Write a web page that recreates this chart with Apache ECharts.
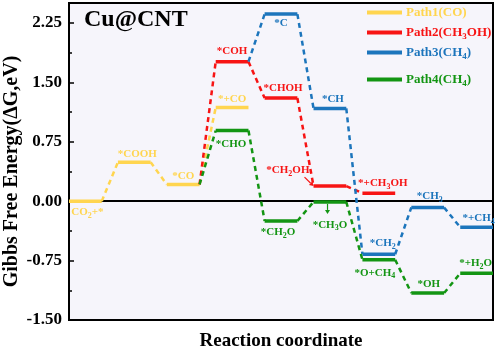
<!DOCTYPE html>
<html>
<head>
<meta charset="utf-8">
<script src="https://cdn.jsdelivr.net/npm/echarts@6/dist/echarts.min.js"></script>
<style>html,body{margin:0;padding:0;background:#fff;}#c{width:498px;height:348px;}</style>
</head>
<body>
<div id="c"></div>
<script>
// ---- data ----
const yTicks = ['-1.50', '-0.75', '0.00', '0.75', '1.50', '2.25'];
const seriesNames = ['Path1(CO)', 'Path2(CH3OH)', 'Path3(CH4)', 'Path4(CH4)'];

const path1Cols = [0, 1, 2, 3];
const path1Vals = [0.00, 0.49, 0.21, 1.18];
const path1Labels = ['CO{s|2}+*', '*COOH', '*CO', '*+CO'];

const path2From = [2, 0.21];
const path2Cols = [3, 4, 5, 6];
const path2Vals = [1.76, 1.30, 0.19, 0.10];
const path2Labels = ['*COH', '*CHOH', '*CH{s|2}OH', '*+CH{s|3}OH'];

const path3From = [3, 1.76];
const path3Cols = [4, 5, 6, 7, 8];
const path3Vals = [2.36, 1.17, -0.67, -0.08, -0.33];
const path3Labels = ['*C', '*CH', '*CH{s|2}', '*CH{s|3}', '*+CH{s|4}'];

const path4From = [2, 0.21];
const path4Cols = [3, 4, 5, 6, 7, 8];
const path4Vals = [0.89, -0.25, -0.01, -0.74, -1.16, -0.91];
const path4Labels = ['*CHO', '*CH{s|2}O', '*CH{s|3}O', '*O+CH{s|4}', '*OH', '*+H{s|2}O'];

// ---- layout (label offsets in px relative to level centre) ----
const path1LabelPos = [[2, 11], [3, -8], [0, -8], [0, -8]];
const path2LabelPos = [[0, -10], [2, -10], [-42, -16], [4, -10]];
const path3LabelPos = [[0, 9], [3, -9], [4, -11], [2, -11], [2, -9]];
const path4LabelPos = [[-1, 14], [-3, 11], [0, 23], [-4, 13], [1, -9], [-1, -10]];

const COLORS = ['#FFD54F', '#F71414', '#1C75BC', '#139513'];
const LW = 0.67; // level width in column units
const FONT = '"Liberation Serif", "Times New Roman", serif';

function makeSeries(name, color, from, cols, vals, labels, pos, arrows) {
  const data = cols.map((c, i) => {
    let pc = 0, pv = 0, has = 0;
    if (i > 0) { pc = cols[i - 1]; pv = vals[i - 1]; has = 1; }
    else if (from) { pc = from[0]; pv = from[1]; has = 1; }
    return [c, vals[i], pc, pv, has, i];
  });
  return {
    name: name,
    type: 'custom',
    itemStyle: { color: color },
    encode: { x: 0, y: 1 },
    data: data,
    clip: false,
    renderItem: function (params, api) {
      const c = api.value(0), v = api.value(1), pc = api.value(2), pv = api.value(3), has = api.value(4), idx = api.value(5);
      const p0 = api.coord([c, v]);
      const p1 = api.coord([c + LW, v]);
      const children = [];
      if (has) {
        const q = api.coord([pc + LW, pv]);
        children.push({ type: 'line', shape: { x1: q[0], y1: q[1], x2: p0[0], y2: p0[1] },
          style: { stroke: color, lineWidth: 2.5, lineDash: [5, 4] } });
      }
      children.push({ type: 'line', shape: { x1: p0[0], y1: p0[1], x2: p1[0], y2: p1[1] },
        style: { stroke: color, lineWidth: 3.5 } });
      const cx = (p0[0] + p1[0]) / 2;
      const lp = pos[idx];
      children.push({ type: 'text', x: cx + lp[0], y: p0[1] + lp[1],
        style: { text: labels[idx], fill: color, fontSize: 11, fontWeight: 'bold', fontFamily: FONT,
          align: 'center', verticalAlign: 'middle', lineHeight: 12,
          rich: { s: { fontSize: 8, fontWeight: 'bold', fontFamily: FONT, fill: color, verticalAlign: 'bottom', lineHeight: 15 } } } });
      if (arrows && arrows[idx]) {
        const a = arrows[idx];
        const x1 = p0[0] + a[0], y1 = p0[1] + a[1], x2 = p0[0] + a[2], y2 = p0[1] + a[3];
        const ang = Math.atan2(y2 - y1, x2 - x1);
        const hl = 4, hw = 2.5;
        const bx = x2 - hl * Math.cos(ang), by = y2 - hl * Math.sin(ang);
        children.push({ type: 'line', shape: { x1: x1, y1: y1, x2: bx, y2: by }, style: { stroke: color, lineWidth: 1.2 } });
        children.push({ type: 'polygon', shape: { points: [[x2, y2],
          [bx - hw * Math.sin(ang), by + hw * Math.cos(ang)], [bx + hw * Math.sin(ang), by - hw * Math.cos(ang)]] },
          style: { fill: color } });
      }
      return { type: 'group', children: children };
    }
  };
}

// arrows: [x1,y1,x2,y2] px offsets from level start
const path2Arrows = [null, null, [-9, -9, 0, 0], null];
const path4Arrows = [null, null, [14, 2, 14, 12], null, null, null];

const richLegend = (color) => ({
  a: { fontSize: 13, fontWeight: 'bold', fontFamily: FONT, color: color, lineHeight: 14, verticalAlign: 'middle' },
  s: { fontSize: 9, fontWeight: 'bold', fontFamily: FONT, color: color, lineHeight: 18, verticalAlign: 'bottom' }
});
const legendFmt = (n) => {
  const m = n.match(/^(.*CH)(\d)(.*)$/);
  if (m) return '{a|' + m[1] + '}{s|' + m[2] + '}{a|' + m[3] + '}';
  return '{a|' + n + '}';
};
const legendTops = [6, 26, 46, 73];

const chart = echarts.init(document.getElementById('c'), null, { renderer: 'canvas' });
chart.setOption({
  animation: false,
  backgroundColor: '#ffffff',
  title: { text: 'Cu@CNT', left: 84, top: 8, padding: 0,
    textStyle: { fontSize: 24, fontWeight: 'bold', fontFamily: FONT, color: '#000' } },
  legend: seriesNames.map((n, i) => ({
    data: [n], left: 367, top: legendTops[i], padding: 0, itemGap: 0,
    icon: 'rect', itemWidth: 35, itemHeight: 4,
    formatter: legendFmt,
    textStyle: { color: COLORS[i], rich: richLegend(COLORS[i]), padding: [0, 0, 0, -1] }
  })),
  grid: { left: 69, right: 5, top: 3, bottom: 28, containLabel: false, outerBoundsMode: 'none',
    show: true, borderColor: '#000', borderWidth: 2, backgroundColor: '#F6F5FB' },
  xAxis: {
    type: 'value', min: 0, max: 8 + LW,
    name: 'Reaction coordinate', nameLocation: 'middle', nameGap: 12, nameMoveOverlap: false,
    nameTextStyle: { fontSize: 19, fontWeight: 'bold', fontFamily: FONT, color: '#000' },
    axisLine: { show: true, lineStyle: { color: '#000', width: 2 } },
    axisTick: { show: false }, axisLabel: { show: false }, splitLine: { show: false }
  },
  yAxis: {
    type: 'value', min: -1.5, max: 2.5, interval: 0.75,
    name: 'Gibbs Free Energy(ΔG,eV)', nameLocation: 'middle', nameGap: 47, nameMoveOverlap: false,
    nameTextStyle: { fontSize: 20, fontWeight: 'bold', fontFamily: FONT, color: '#000', padding: [0, 20, 0, 0] },
    axisLine: { show: true, lineStyle: { color: '#000', width: 2 } },
    axisTick: { show: true, inside: true, length: 5, lineStyle: { color: '#000', width: 1.5 } },
    minorTick: { show: true, splitNumber: 2, length: 3, lineStyle: { color: '#000', width: 1.5 } },
    axisLabel: { margin: 7, fontSize: 17, fontWeight: 'bold', fontFamily: FONT, color: '#000',
      formatter: (v) => { const s = v.toFixed(2); return yTicks.indexOf(s) >= 0 ? s : ''; } },
    splitLine: { show: false }
  },
  series: [
    makeSeries(seriesNames[0], COLORS[0], null, path1Cols, path1Vals, path1Labels, path1LabelPos, null),
    makeSeries(seriesNames[1], COLORS[1], path2From, path2Cols, path2Vals, path2Labels, path2LabelPos, path2Arrows),
    makeSeries(seriesNames[2], COLORS[2], path3From, path3Cols, path3Vals, path3Labels, path3LabelPos, null),
    makeSeries(seriesNames[3], COLORS[3], path4From, path4Cols, path4Vals, path4Labels, path4LabelPos, path4Arrows)
  ]
});
</script>
</body>
</html>
